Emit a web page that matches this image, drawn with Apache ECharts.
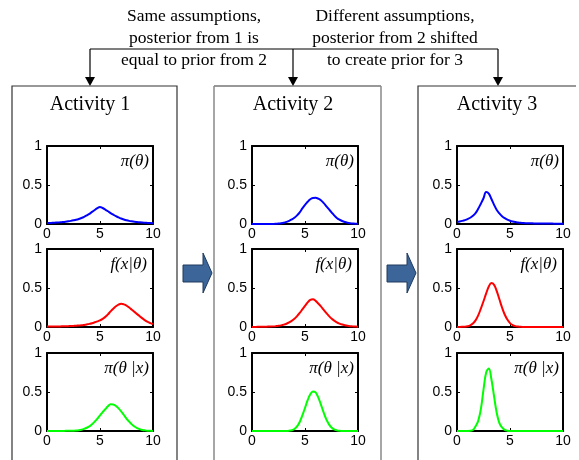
<!DOCTYPE html>
<html>
<head>
<meta charset="utf-8">
<script src="https://cdn.jsdelivr.net/npm/echarts@6/dist/echarts.min.js"></script>
<style>
html, body { margin: 0; padding: 0; background: #fff; }
#main { width: 579px; height: 460px; }
</style>
</head>
<body>
<div id="main"></div>
<script>
// theta grid shared by every curve
var theta = [0, 0.25, 0.5, 0.75, 1, 1.25, 1.5, 1.75, 2, 2.25, 2.5, 2.75, 3, 3.25, 3.5, 3.75,
    4, 4.25, 4.5, 4.75, 5, 5.25, 5.5, 5.75, 6, 6.25, 6.5, 6.75, 7, 7.25, 7.5, 7.75,
    8, 8.25, 8.5, 8.75, 9, 9.25, 9.5, 9.75, 10];

var xTicks = [0, 5, 10];
var yTicks = [0, 0.5, 1];

// activity 1
var prior1 = [0.012, 0.013, 0.015, 0.017, 0.019, 0.022, 0.025, 0.029, 0.034, 0.040, 0.047, 0.055, 0.065, 0.077, 0.092, 0.110,
    0.130, 0.155, 0.180, 0.205, 0.218, 0.205, 0.185, 0.163, 0.140, 0.120, 0.100, 0.085, 0.070, 0.058, 0.048, 0.040,
    0.034, 0.029, 0.025, 0.021, 0.018, 0.016, 0.014, 0.012, 0.011];
var like1 = [0.005, 0.005, 0.006, 0.006, 0.007, 0.008, 0.009, 0.010, 0.011, 0.012, 0.014, 0.016, 0.019, 0.022, 0.027, 0.033,
    0.040, 0.049, 0.060, 0.072, 0.085, 0.105, 0.130, 0.162, 0.200, 0.235, 0.265, 0.287, 0.297, 0.290, 0.275, 0.250,
    0.222, 0.194, 0.165, 0.137, 0.110, 0.086, 0.065, 0.050, 0.038];
var post1 = [0.001, 0.001, 0.001, 0.001, 0.001, 0.001, 0.001, 0.002, 0.002, 0.003, 0.004, 0.006, 0.010, 0.017, 0.028, 0.042,
    0.060, 0.088, 0.120, 0.158, 0.200, 0.242, 0.280, 0.318, 0.342, 0.340, 0.320, 0.290, 0.250, 0.205, 0.160, 0.120,
    0.085, 0.058, 0.038, 0.024, 0.014, 0.008, 0.004, 0.002, 0.001];

// activity 2
var prior2 = [0.001, 0.001, 0.001, 0.001, 0.001, 0.001, 0.001, 0.001, 0.001, 0.002, 0.005, 0.010, 0.017, 0.027, 0.040, 0.058,
    0.080, 0.110, 0.150, 0.200, 0.245, 0.285, 0.318, 0.333, 0.335, 0.325, 0.305, 0.270, 0.230, 0.190, 0.150, 0.110,
    0.078, 0.055, 0.038, 0.025, 0.016, 0.010, 0.007, 0.004, 0.003];
var like2 = [0.001, 0.001, 0.002, 0.002, 0.003, 0.004, 0.005, 0.006, 0.008, 0.011, 0.015, 0.021, 0.030, 0.042, 0.058, 0.080,
    0.105, 0.140, 0.180, 0.225, 0.270, 0.315, 0.348, 0.355, 0.335, 0.302, 0.265, 0.222, 0.180, 0.142, 0.108, 0.082,
    0.060, 0.044, 0.032, 0.023, 0.016, 0.011, 0.008, 0.005, 0.004];
var post2 = [0, 0, 0, 0, 0, 0, 0, 0, 0, 0, 0, 0, 0, 0.001, 0.004, 0.010,
    0.025, 0.058, 0.115, 0.200, 0.295, 0.395, 0.470, 0.508, 0.495, 0.430, 0.340, 0.240, 0.152, 0.088, 0.045, 0.020,
    0.008, 0.003, 0.001, 0, 0, 0, 0, 0, 0];

// activity 3
var prior3 = [0.026, 0.032, 0.040, 0.050, 0.063, 0.080, 0.105, 0.140, 0.195, 0.260, 0.330, 0.410, 0.390, 0.320, 0.245, 0.180,
    0.135, 0.100, 0.075, 0.056, 0.042, 0.032, 0.025, 0.020, 0.016, 0.013, 0.011, 0.010, 0.009, 0.008, 0.007, 0.007,
    0.006, 0.006, 0.005, 0.005, 0.005, 0.004, 0.004, 0.004, 0.004];
var like3 = [0.001, 0.001, 0.002, 0.004, 0.010, 0.022, 0.045, 0.085, 0.150, 0.235, 0.330, 0.430, 0.520, 0.565, 0.540, 0.460,
    0.355, 0.250, 0.160, 0.095, 0.050, 0.025, 0.011, 0.005, 0.002, 0.001, 0, 0, 0, 0, 0, 0,
    0, 0, 0, 0, 0, 0, 0, 0, 0];
var post3 = [0, 0, 0, 0, 0, 0.002, 0.012, 0.060, 0.130, 0.280, 0.530, 0.750, 0.800, 0.660, 0.440, 0.230,
    0.100, 0.045, 0.015, 0.004, 0.001, 0, 0, 0, 0, 0, 0, 0, 0, 0, 0, 0,
    0, 0, 0, 0, 0, 0, 0, 0, 0];

var titles = ['Activity 1', 'Activity 2', 'Activity 3'];
var curveNames = ['π(θ)', 'f(x|θ)', 'π(θ |x)'];
var noteLeft = ['Same assumptions,', 'posterior from 1 is', 'equal to prior from 2'];
var noteRight = ['Different assumptions,', 'posterior from 2 shifted', 'to create prior for 3'];

var curves = [[prior1, like1, post1], [prior2, like2, post2], [prior3, like3, post3]];
var curveColors = ['#0000ff', '#ff0000', '#00ff00'];

var chart = echarts.init(document.getElementById('main'));

var plotLeft = [47, 252, 457];
var rowTop = [146, 249, 353];
var plotW = 106, plotH = 78;
var serif = '"Liberation Serif", "Times New Roman", serif';
var sans = '"Liberation Sans", Arial, sans-serif';

var grids = [], xAxes = [], yAxes = [], series = [], graphics = [];

function axisBase(showLabel, pos, isX) {
    return {
        type: 'value',
        position: pos,
        min: 0,
        max: isX ? 10 : 1,
        interval: isX ? 5 : 0.5,
        axisLine: { show: true, onZero: false, lineStyle: { color: '#000', width: 2 } },
        axisTick: { show: true, inside: true, length: 3, lineStyle: { color: '#000', width: 1 } },
        axisLabel: {
            show: showLabel, color: '#000', fontSize: 14, fontFamily: sans,
            margin: isX ? 3 : 5
        },
        splitLine: { show: false }
    };
}

for (var b = 0; b < 3; b++) {
    for (var r = 0; r < 3; r++) {
        var gi = grids.length;
        grids.push({ left: plotLeft[b], top: rowTop[r], width: plotW, height: plotH, containLabel: false });

        var xb = axisBase(true, 'bottom', true); xb.gridIndex = gi;
        var xt = axisBase(false, 'top', true); xt.gridIndex = gi;
        var yl = axisBase(true, 'left', false); yl.gridIndex = gi;
        var yr = axisBase(false, 'right', false); yr.gridIndex = gi;
        xAxes.push(xb, xt);
        yAxes.push(yl, yr);

        var vals = curves[b][r];
        series.push({
            type: 'line',
            xAxisIndex: gi * 2,
            yAxisIndex: gi * 2,
            data: theta.map(function (t, i) { return [t, vals[i]]; }),
            showSymbol: false,
            smooth: 0.4,
            lineStyle: { color: curveColors[r], width: 2 },
            itemStyle: { color: curveColors[r] },
            z: 2
        });

        graphics.push({
            type: 'text',
            x: plotLeft[b] + plotW - (r == 1 ? 6 : 4),
            y: rowTop[r] + 16,
            style: {
                text: curveNames[r],
                font: 'italic 17px ' + serif,
                fill: '#000',
                textAlign: 'right',
                textVerticalAlign: 'middle'
            },
            z: 10
        });
    }
}

// activity titles
var titleX = [90, 293, 497];
titles.forEach(function (t, i) {
    graphics.push({
        type: 'text', x: titleX[i], y: 105,
        style: { text: t, font: '20px ' + serif, fill: '#000', textAlign: 'center', textVerticalAlign: 'middle' }
    });
});

// notes at top
var lineY = [16, 38, 60];
noteLeft.forEach(function (t, i) {
    graphics.push({
        type: 'text', x: 194, y: lineY[i],
        style: { text: t, font: '17.5px ' + serif, fill: '#000', textAlign: 'center', textVerticalAlign: 'middle' }
    });
});
noteRight.forEach(function (t, i) {
    graphics.push({
        type: 'text', x: 395, y: lineY[i],
        style: { text: t, font: '17.5px ' + serif, fill: '#000', textAlign: 'center', textVerticalAlign: 'middle' }
    });
});

// connector lines and arrow heads
graphics.push({ type: 'line', shape: { x1: 90, y1: 49, x2: 498, y2: 49 }, style: { stroke: '#000', lineWidth: 1.2 } });
titleX.concat().forEach(function (x, i) {
    var ax = [90, 293, 498][i];
    graphics.push({ type: 'line', shape: { x1: ax, y1: 49, x2: ax, y2: 78 }, style: { stroke: '#000', lineWidth: 1.2 } });
    graphics.push({
        type: 'polygon',
        shape: { points: [[ax - 5, 77], [ax + 5, 77], [ax, 86]] },
        style: { fill: '#000' }
    });
});

// boxes
graphics.push({ type: 'polyline', shape: { points: [[12, 460], [12, 86], [177, 86], [177, 460]] }, style: { stroke: '#333', lineWidth: 1.2, fill: null } });
graphics.push({ type: 'line', shape: { x1: 214, y1: 86, x2: 381, y2: 86 }, style: { stroke: '#333', lineWidth: 1.2 } });
graphics.push({ type: 'line', shape: { x1: 214, y1: 86, x2: 214, y2: 460 }, style: { stroke: '#888', lineWidth: 1.5 } });
graphics.push({ type: 'line', shape: { x1: 381, y1: 86, x2: 381, y2: 460 }, style: { stroke: '#888', lineWidth: 1.5 } });
graphics.push({ type: 'polyline', shape: { points: [[418, 460], [418, 86], [576, 86]] }, style: { stroke: '#333', lineWidth: 1.2, fill: null } });

// block arrows between activities
[183, 387].forEach(function (x0) {
    graphics.push({
        type: 'polygon',
        shape: { points: [[x0, 265], [x0 + 20, 265], [x0 + 20, 253], [x0 + 29, 273], [x0 + 20, 293], [x0 + 20, 282], [x0, 282]] },
        style: { fill: '#3c659a', stroke: '#1e3a5f', lineWidth: 1 }
    });
});

chart.setOption({
    animation: false,
    backgroundColor: '#fff',
    grid: grids,
    xAxis: xAxes,
    yAxis: yAxes,
    series: series,
    graphic: graphics
});
</script>
</body>
</html>
